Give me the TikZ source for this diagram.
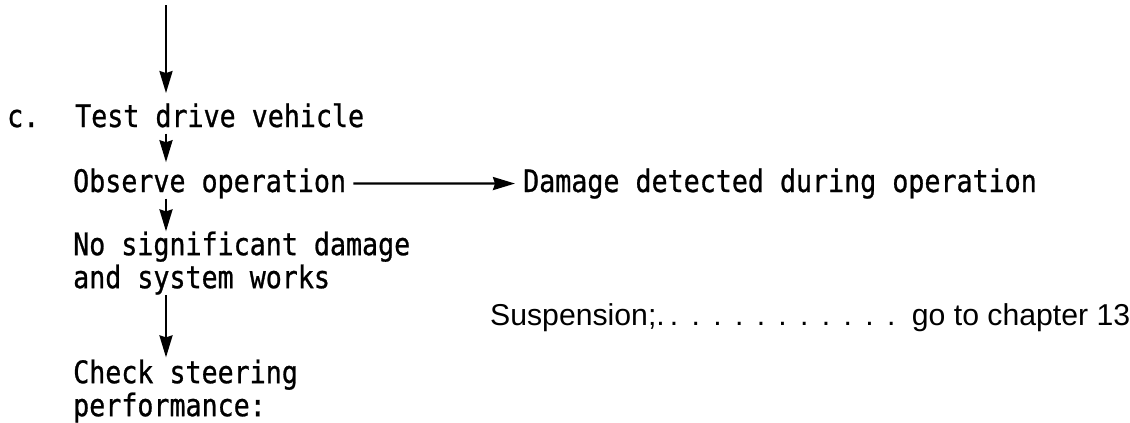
\documentclass[tikz,border=0pt]{standalone}
\usepackage{fontspec}
\setmainfont{Liberation Sans}
\newfontfamily\twfont[FakeStretch=0.86,FakeBold=0.8]{DejaVu Sans Mono}
\usetikzlibrary{arrows.meta}
\begin{document}
\begin{tikzpicture}[x=1pt,y=-1pt,
  mono/.style={inner sep=0pt, font=\twfont\fontsize{31}{33}\selectfont},
  sans/.style={inner sep=0pt, font=\fontsize{30.2}{34}\selectfont},
  arr/.style={line width=2.5pt, -{Stealth[length=22pt,width=13pt,inset=2pt]}}]
\fill[white] (0,0) rectangle (1130,423);
\useasboundingbox (0,0) rectangle (1130,423);

\node[mono, anchor=base west] (lbl) at (7,127) {c.};
\node[mono, anchor=base west] (test) at (75,127) {Test drive vehicle};
\node[mono, anchor=base west] (obs) at (73,192) {Observe operation};
\node[mono, anchor=base west] (dmg) at (523,192) {Damage detected during operation};
\node[mono, anchor=north west, align=left] (ok) at (73,231.4) {No significant damage\\and system works};
\node[mono, anchor=north west, align=left] (chk) at (73,359.4) {Check steering\\performance:};
\node[sans, anchor=base west] (susp) at (490,325) {Suspension;.\cleaders\hbox to 21.7pt{\hskip5.2pt.\hfil}\hskip 238.7pt\ go to chapter 13};

\coordinate (src) at (166,5);
\draw[arr, shorten >=10pt] (src) -- (src |- test.north);
\draw[arr, shorten <=6pt, shorten >=6pt] (test.south -| src) -- (obs.north -| src);
\draw[arr] (obs.south -| src) -- (ok.north -| src);
\draw[arr, shorten >=2pt] (ok.south -| src) -- (chk.north -| src);
\draw[arr, line width=2.2pt, shorten <=7pt, shorten >=8pt] (obs.east) -- (dmg.west);
\end{tikzpicture}
\end{document}
